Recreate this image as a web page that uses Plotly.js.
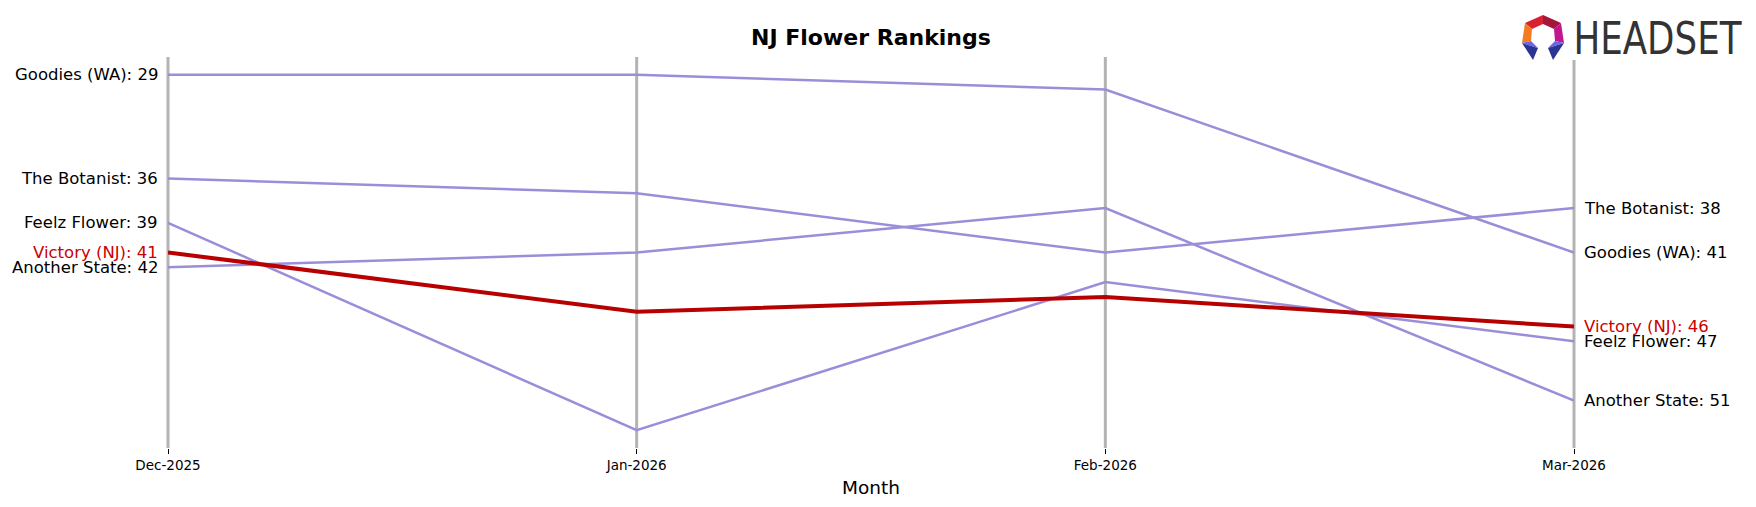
<!DOCTYPE html>
<html>
<head>
<meta charset="utf-8">
<script src="https://cdn.plot.ly/plotly-3.0.1.min.js"></script>
<style>
html,body{margin:0;padding:0;background:#fff;}
#chart{width:1756px;height:507px;}
</style>
</head>
<body>
<div id="chart"></div>
<script>
// ---- data ----
const months = ["Dec-2025", "Jan-2026", "Feb-2026", "Mar-2026"];
const brands = ["Goodies (WA)", "The Botanist", "Feelz Flower", "Another State", "Victory (NJ)"];
const goodies = [29, 29, 30, 41];
const botanist = [36, 37, 41, 38];
const feelz = [39, 53, 43, 47];
const anotherState = [42, 41, 38, 51];
const victory = [41, 45, 44, 46];
const highlight = "Victory (NJ)";

const seriesList = [goodies, botanist, feelz, anotherState, victory];

const PURPLE = "#9b8ed9";
const RED = "#b80000";
const RED_TXT = "#cc0000";

const W = 1756, H = 507;
const M = {l: 168, r: 182, t: 57, b: 59};
const pw = W - M.l - M.r, ph = H - M.t - M.b;

const traces = [];
const annotations = [];
brands.forEach((name, i) => {
  const vals = seriesList[i];
  const hi = name === highlight;
  traces.push({
    x: months, y: vals, type: "scatter", mode: "lines", name: name,
    line: {color: hi ? RED : PURPLE, width: hi ? 4 : 2.5},
    hoverinfo: "skip", cliponaxis: false
  });
  const col = hi ? RED_TXT : "#000";
  annotations.push({
    x: months[0], y: vals[0], xref: "x", yref: "y",
    text: name + ": " + vals[0], showarrow: false,
    xanchor: "right", yanchor: "middle", xshift: -8,
    font: {family: "DejaVu Sans", size: 16.5, color: col}
  });
  annotations.push({
    x: months[months.length - 1], y: vals[vals.length - 1], xref: "x", yref: "y",
    text: name + ": " + vals[vals.length - 1], showarrow: false,
    xanchor: "left", yanchor: "middle", xshift: 8,
    font: {family: "DejaVu Sans", size: 16.5, color: col}
  });
});

// logo wordmark
const WM_W = 168;
annotations.push({
  x: (1574 + WM_W / 2 - M.l) / pw, y: 1 + (M.t - 38.5) / ph, xref: "paper", yref: "paper",
  text: "HEADSET", showarrow: false,
  xanchor: "center", yanchor: "middle",
  font: {family: "DejaVu Sans Condensed, DejaVu Sans, sans-serif", size: 45, color: "#333333"}
});

// vertical month lines (paper-referenced so edge lines are not clipped)
const shapes = months.map((m, i) => ({
  type: "line", xref: "paper", yref: "paper",
  x0: i / (months.length - 1), x1: i / (months.length - 1),
  y0: 0, y1: i === months.length - 1 ? 1 - 3 / ph : 1,
  line: {color: "#b3b3b3", width: 3}, layer: "below"
}));

const logoSvg =
'<svg xmlns="http://www.w3.org/2000/svg" viewBox="0 0 44 45" width="44" height="45">' +
'<polygon points="22,0 4,8 11,14 22,9" fill="#d92231"/>' +
'<polygon points="22,0 40,8 33,14 22,9" fill="#a3173b"/>' +
'<polygon points="4,8 1,28 10,26 11,14" fill="#f47b20"/>' +
'<polygon points="40,8 43,28 34,26 33,14" fill="#c2168f"/>' +
'<polygon points="1,28 10,26 17,33" fill="#6a66e6"/>' +
'<polygon points="1,28 17,33 12,45" fill="#2a3591"/>' +
'<polygon points="43,28 34,26 27,33" fill="#6a66e6"/>' +
'<polygon points="43,28 27,33 32,45" fill="#2a3591"/>' +
'</svg>';

const layout = {
  width: W, height: H,
  paper_bgcolor: "#ffffff", plot_bgcolor: "#ffffff",
  margin: {l: M.l, r: M.r, t: M.t, b: M.b, pad: 0},
  showlegend: false,
  title: {
    text: "<b>NJ Flower Rankings</b>",
    font: {family: "DejaVu Sans", size: 22, color: "#000"},
    x: 0.4960, xref: "container", xanchor: "center",
    y: 1 - 37 / H, yref: "container", yanchor: "middle"
  },
  xaxis: {
    type: "category", range: [0, months.length - 1],
    showgrid: false,
    zeroline: false, showline: false,
    ticks: "outside", ticklen: 5, tickwidth: 1, tickcolor: "#000",
    tickfont: {family: "DejaVu Sans", size: 13.5, color: "#000"},
    title: {text: "Month", font: {family: "DejaVu Sans", size: 18.5, color: "#000"}, standoff: 8},
    fixedrange: true
  },
  yaxis: {
    range: [54.2, 27.8], visible: false, showgrid: false, zeroline: false, fixedrange: true
  },
  shapes: shapes,
  annotations: annotations,
  images: [{
    source: "data:image/svg+xml;charset=utf-8," + encodeURIComponent(logoSvg),
    xref: "paper", yref: "paper",
    x: (1521 - M.l) / pw, y: 1 + (M.t - 15) / ph,
    sizex: 44 / pw, sizey: 45 / ph,
    xanchor: "left", yanchor: "top", sizing: "stretch", layer: "above"
  }]
};

Plotly.newPlot("chart", traces, layout, {displayModeBar: false, staticPlot: true}).then(() => {
  document.querySelectorAll("#chart text.annotation-text").forEach(t => {
    if (t.textContent === "HEADSET") {
      t.setAttribute("textLength", String(WM_W));
      t.setAttribute("lengthAdjust", "spacingAndGlyphs");
    }
  });
});
</script>
</body>
</html>
